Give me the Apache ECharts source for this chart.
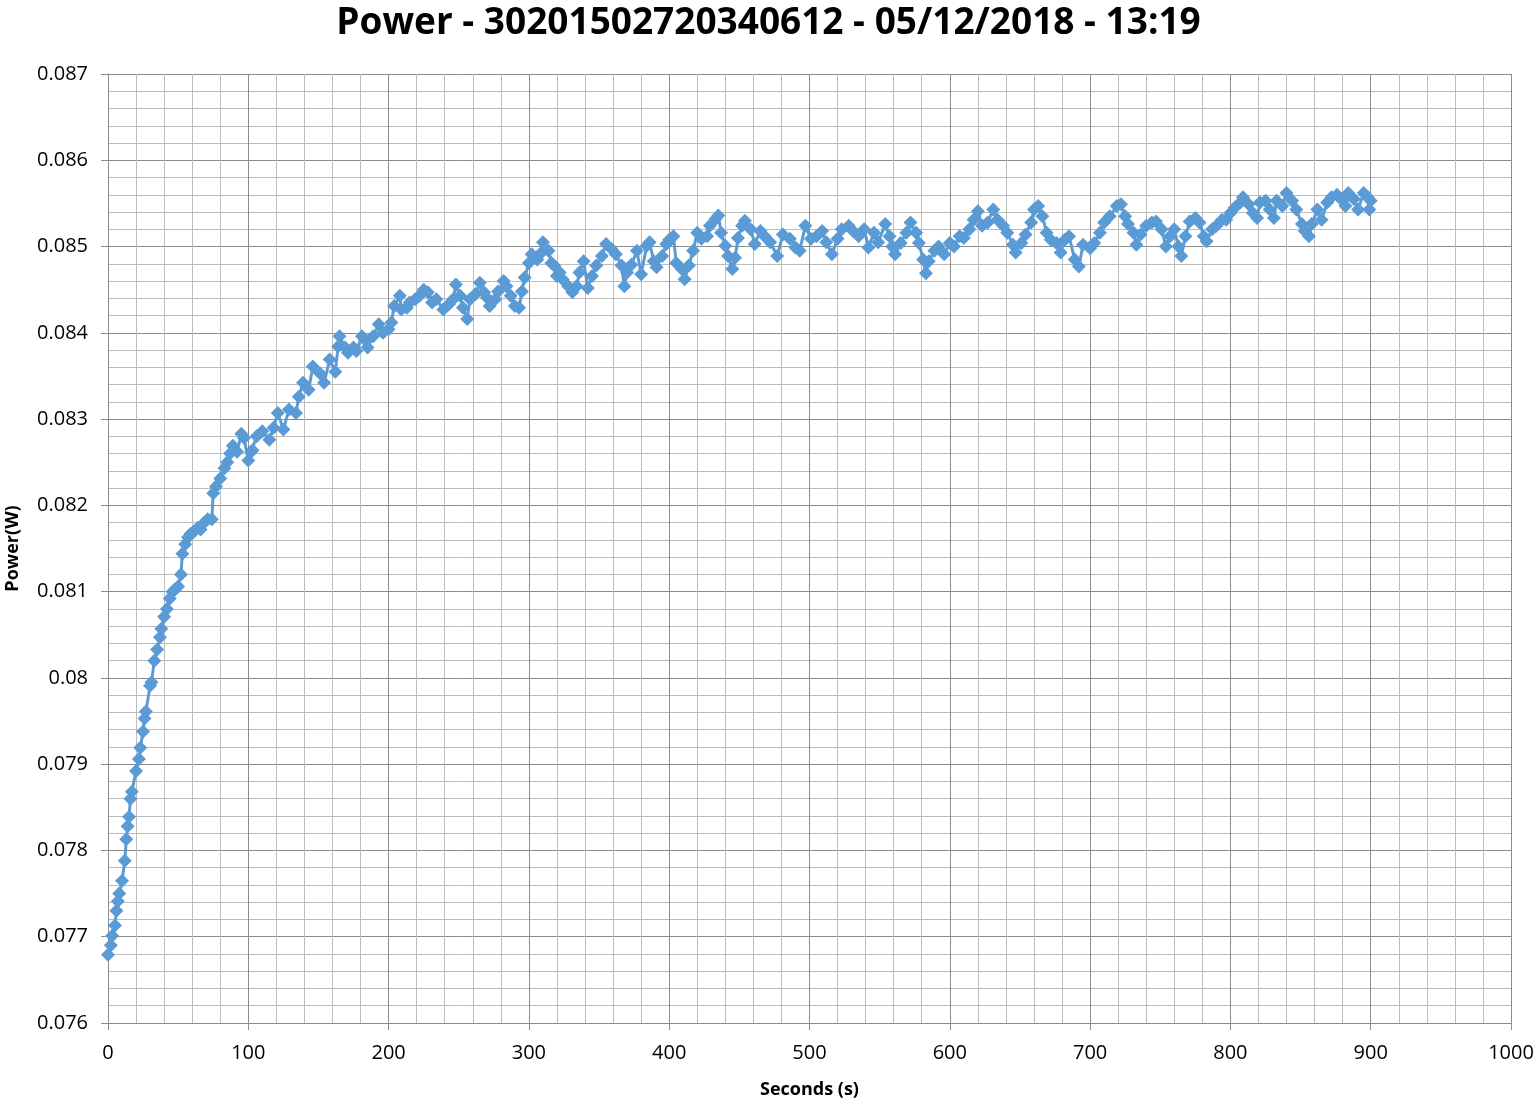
<!DOCTYPE html>
<html>
<head>
<meta charset="utf-8">
<script src="https://cdn.jsdelivr.net/npm/echarts@6/dist/echarts.min.js"></script>
<style>
html,body{margin:0;padding:0;background:#fff;}
#chart{width:1537px;height:1106px;}
</style>
</head>
<body>
<div id="chart"></div>
<script>
const chartTitle = "Power - 30201502720340612 - 05/12/2018 - 13:19";
const xAxisName = "Seconds (s)";
const yAxisName = "Power(W)";

const seconds = [
0,2,3,5,6,7,8,10,12,13,14,15,16,17,20,22,23,25,26,27,30,31,33,35,37,38,40,42,44,46,48,50,52,53,55,57,59,61,64,66,68,71,74,75,77,80,83,85,87,89,92,95,97,100,102,
103,106,110,115,118,121,125,129,134,136,139,143,146,151,154,158,162,164,165,169,171,175,177,181,183,185,189,193,196,200,202,204,208,209,213,215,219,222,225,228,231,234,239,243,246,248,251,253,256,258,262,265,268,270,272,276,278,282,284,287,290,293,295,297,300,302,306,309,310,314,316,318,
320,322,324,328,331,334,336,339,342,345,348,352,355,359,362,366,368,370,373,377,380,384,386,389,391,395,398,400,403,405,409,411,414,417,420,423,427,429,433,435,437,440,442,445,447,449,452,454,458,461,465,468,472,477,481,486,490,493,497,501,505,509,512,516,520,523,528,531,535,539,542,546,549,554,
557,559,561,565,569,572,576,578,581,583,585,589,592,596,600,603,607,610,614,617,620,623,627,631,634,638,641,645,647,651,654,658,660,663,666,669,672,676,679,682,685,689,692,695,700,703,707,710,714,719,722,725,727,731,733,736,740,744,747,751,754,757,760,763,
765,768,771,775,778,781,783,787,790,794,797,800,803,807,809,813,816,819,821,825,828,831,833,837,840,844,847,851,853,856,858,862,865,869,872,876,880,882,884,888,891,895,898,899,900
];

const power = [
0.07679,0.07690,0.07701,0.07713,0.07730,0.07741,0.07750,0.07765,0.07788,0.07813,0.07828,0.07839,0.07860,0.07868,0.07892,0.07906,0.07919,0.07938,0.07953,0.07961,0.07991,0.07995,0.08020,0.08033,0.08047,0.08057,0.08071,0.08080,0.08092,0.08100,0.08103,0.08106,0.08120,0.08144,0.08155,0.08163,0.08167,0.08169,0.08174,0.08172,0.08179,0.08184,0.08184,0.08214,0.08222,0.08231,0.08243,0.08250,0.08260,0.08269,0.08262,0.08283,0.08278,0.08252,0.08262,
0.08264,0.08280,0.08286,0.08276,0.08290,0.08307,0.08288,0.08311,0.08307,0.08326,0.08342,0.08334,0.08361,0.08353,0.08342,0.08369,0.08355,0.08384,0.08396,0.08383,0.08377,0.08383,0.08379,0.08396,0.08392,0.08383,0.08396,0.08410,0.08400,0.08404,0.08412,0.08431,0.08443,0.08427,0.08429,0.08435,0.08439,0.08443,0.08450,0.08447,0.08435,0.08439,0.08427,0.08433,0.08439,0.08456,0.08443,0.08429,0.08416,0.08439,0.08445,0.08458,0.08447,0.08441,0.08431,0.08439,0.08448,0.08460,0.08454,0.08443,0.08431,0.08429,0.08448,0.08464,0.08481,0.08491,0.08485,0.08493,0.08505,0.08495,0.08481,0.08478,
0.08466,0.08470,0.08462,0.08454,0.08447,0.08454,0.08470,0.08483,0.08452,0.08466,0.08478,0.08489,0.08503,0.08497,0.08491,0.08478,0.08454,0.08470,0.08479,0.08495,0.08468,0.08501,0.08505,0.08483,0.08476,0.08489,0.08503,0.08508,0.08512,0.08481,0.08474,0.08462,0.08478,0.08495,0.08516,0.08509,0.08512,0.08524,0.08532,0.08536,0.08516,0.08501,0.08489,0.08474,0.08487,0.08510,0.08524,0.08530,0.08520,0.08503,0.08518,0.08512,0.08505,0.08489,0.08514,0.08509,0.08499,0.08495,0.08524,0.08509,0.08512,0.08518,0.08505,0.08491,0.08509,0.08520,0.08524,0.08518,0.08512,0.08520,0.08499,0.08516,0.08505,0.08526,
0.08512,0.08500,0.08491,0.08504,0.08516,0.08528,0.08516,0.08504,0.08485,0.08469,0.08483,0.08495,0.08500,0.08491,0.08504,0.08500,0.08512,0.08510,0.08520,0.08531,0.08541,0.08524,0.08528,0.08543,0.08531,0.08524,0.08516,0.08502,0.08493,0.08504,0.08514,0.08528,0.08543,0.08547,0.08535,0.08516,0.08508,0.08504,0.08493,0.08508,0.08512,0.08485,0.08477,0.08502,0.08498,0.08504,0.08516,0.08528,0.08535,0.08547,0.08549,0.08535,0.08526,0.08516,0.08502,0.08514,0.08524,0.08528,0.08529,0.08520,0.08500,0.08512,0.08520,0.08500,
0.08489,0.08512,0.08529,0.08533,0.08528,0.08512,0.08506,0.08520,0.08524,0.08531,0.08531,0.08539,0.08545,0.08551,0.08557,0.08549,0.08539,0.08533,0.08551,0.08553,0.08543,0.08533,0.08553,0.08547,0.08562,0.08553,0.08543,0.08526,0.08518,0.08512,0.08526,0.08543,0.08531,0.08551,0.08557,0.08560,0.08553,0.08547,0.08562,0.08555,0.08543,0.08562,0.08557,0.08543,0.08553
];

const xMin = 0, xMax = 1000, xStep = 100;
const yMin = 0.076, yMax = 0.087, yStep = 0.001;

const points = seconds.map((s, i) => [s, power[i]]);

const chart = echarts.init(document.getElementById('chart'), null, {renderer: 'canvas'});
const labelFont = {fontFamily: 'Open Sans', fontSize: 20, color: '#000'};
const majorLine = {lineStyle: {color: '#8c8c8c', width: 1}};
const minorLine = {lineStyle: {color: '#bcbcbc', width: 1}};

chart.setOption({
  animation: false,
  backgroundColor: '#fff',
  title: {
    text: chartTitle,
    left: 'center',
    top: 0,
    textStyle: {fontFamily: 'Open Sans', fontWeight: 'bold', fontSize: 37, color: '#000'}
  },
  grid: {left: 108, right: 26, top: 74, bottom: 83, containLabel: false, outerBoundsMode: 'none'},
  xAxis: {
    type: 'value', min: xMin, max: xMax, interval: xStep,
    name: xAxisName, nameLocation: 'middle', nameGap: 58,
    nameTextStyle: {fontFamily: 'Open Sans', fontWeight: 'bold', fontSize: 18, color: '#000'},
    axisLine: {show: true, lineStyle: {color: '#8c8c8c', width: 1}},
    axisTick: {show: true, length: 7, lineStyle: {color: '#8c8c8c'}},
    axisLabel: Object.assign({margin: 20, formatter: v => String(v)}, labelFont),
    splitLine: Object.assign({show: true}, majorLine),
    minorTick: {show: false, splitNumber: 5},
    minorSplitLine: Object.assign({show: true}, minorLine)
  },
  yAxis: {
    type: 'value', min: yMin, max: yMax, interval: yStep,
    name: yAxisName, nameLocation: 'middle', nameGap: 86, nameRotate: 90,
    nameTextStyle: {fontFamily: 'Open Sans', fontWeight: 'bold', fontSize: 18, color: '#000'},
    axisLine: {show: true, lineStyle: {color: '#8c8c8c', width: 1}},
    axisTick: {show: true, length: 7, lineStyle: {color: '#8c8c8c'}},
    axisLabel: Object.assign({margin: 20, formatter: v => String(parseFloat(v.toFixed(4)))}, labelFont),
    splitLine: Object.assign({show: true}, majorLine),
    minorTick: {show: false, splitNumber: 5},
    minorSplitLine: Object.assign({show: true}, minorLine)
  },
  series: [{
    type: 'line',
    data: points,
    symbol: 'diamond',
    symbolSize: 14,
    showAllSymbol: true,
    lineStyle: {color: '#5b9bd5', width: 3},
    itemStyle: {color: '#5b9bd5', borderWidth: 0}
  }]
});
</script>
</body>
</html>
